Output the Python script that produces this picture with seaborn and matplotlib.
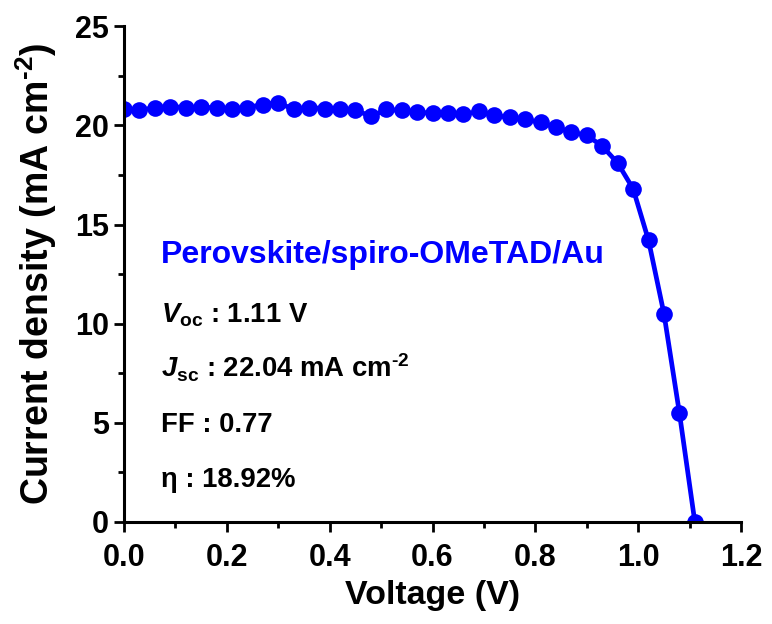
import numpy as np
import pandas as pd
import matplotlib
matplotlib.use("Agg")
import matplotlib.pyplot as plt
from matplotlib.ticker import MultipleLocator, FormatStrFormatter
import seaborn as sns

# J-V curve (0.03 V steps)
voltage = [0.00, 0.03, 0.06, 0.09, 0.12, 0.15, 0.18, 0.21, 0.24, 0.27,
           0.30, 0.33, 0.36, 0.39, 0.42, 0.45, 0.48, 0.51, 0.54, 0.57,
           0.60, 0.63, 0.66, 0.69, 0.72, 0.75, 0.78, 0.81, 0.84, 0.87,
           0.90, 0.93, 0.96, 0.99, 1.02, 1.05, 1.08, 1.11]
current = [20.80, 20.75, 20.90, 20.95, 20.90, 20.92, 20.88, 20.85, 20.90, 21.05,
           21.15, 20.80, 20.90, 20.85, 20.80, 20.78, 20.45, 20.80, 20.75, 20.68,
           20.60, 20.63, 20.56, 20.70, 20.50, 20.40, 20.30, 20.15, 19.90, 19.65,
           19.50, 18.95, 18.10, 16.80, 14.20, 10.50, 5.50, 0.00]

device_name = "Perovskite/spiro-OMeTAD/Au"
param_lines = [r"$V_{\mathbf{oc}}$ : 1.11 V",
               r"$J_{\mathbf{sc}}$ : 22.04 mA cm$^{\text{-2}}$",
               "FF : 0.77",
               "\u03b7 : 18.92%"]

df = pd.DataFrame({"Voltage": voltage, "Current": current})

sns.set_style("ticks")
plt.rcParams['font.family'] = ['Liberation Sans', 'DejaVu Sans']
plt.rcParams['font.weight'] = 'bold'
plt.rcParams['mathtext.fontset'] = 'custom'
plt.rcParams['mathtext.rm'] = 'Liberation Sans:bold'
plt.rcParams['mathtext.bf'] = 'Liberation Sans:bold'
plt.rcParams['mathtext.it'] = 'Liberation Sans:bold:italic'
for key in ['text.color', 'axes.labelcolor', 'xtick.color', 'ytick.color']:
    plt.rcParams[key] = 'black'

fig = plt.figure(figsize=(7.72, 6.24), dpi=100)
ax = fig.add_axes([0.1606, 0.1635, 0.7994, 0.7945])

sns.lineplot(data=df, x="Voltage", y="Current", ax=ax, color="#0000ff",
             linewidth=3.4, marker="o", markersize=12, markeredgewidth=0,
             markeredgecolor="#0000ff")

ax.set_xlim(0, 1.2)
ax.set_ylim(0, 25)
ax.xaxis.set_major_locator(MultipleLocator(0.2))
ax.xaxis.set_minor_locator(MultipleLocator(0.1))
ax.yaxis.set_major_locator(MultipleLocator(5))
ax.yaxis.set_minor_locator(MultipleLocator(2.5))
ax.xaxis.set_major_formatter(FormatStrFormatter('%.1f'))

for side in ['left', 'bottom']:
    ax.spines[side].set_linewidth(2.2)
    ax.spines[side].set_color('black')
sns.despine(ax=ax)
ax.tick_params(which='major', direction='out', length=7, width=2, labelsize=22)
ax.tick_params(axis='x', which='major', pad=8)
ax.tick_params(axis='y', which='major', pad=4)
ax.tick_params(which='minor', direction='out', length=4, width=2)
for lab in ax.get_xticklabels() + ax.get_yticklabels():
    lab.set_fontweight('bold')

ax.set_xlabel("Voltage (V)", fontsize=24.5, fontweight='bold', labelpad=5)
ax.set_ylabel(r"Current density (mA cm$^{\text{-2}}$)", fontsize=27,
              fontweight='bold', labelpad=11)

ax.text(0.072, 13.05, device_name, color="#0000ff", fontsize=23,
        fontweight='bold', va='baseline', ha='left')
ys = [10.08, 7.31, 4.54, 1.76]
for y, s in zip(ys, param_lines):
    ax.text(0.072, y, s, color='black', fontsize=19.8, fontweight='bold',
            va='baseline', ha='left')

fig.savefig("out.png", dpi=100)
